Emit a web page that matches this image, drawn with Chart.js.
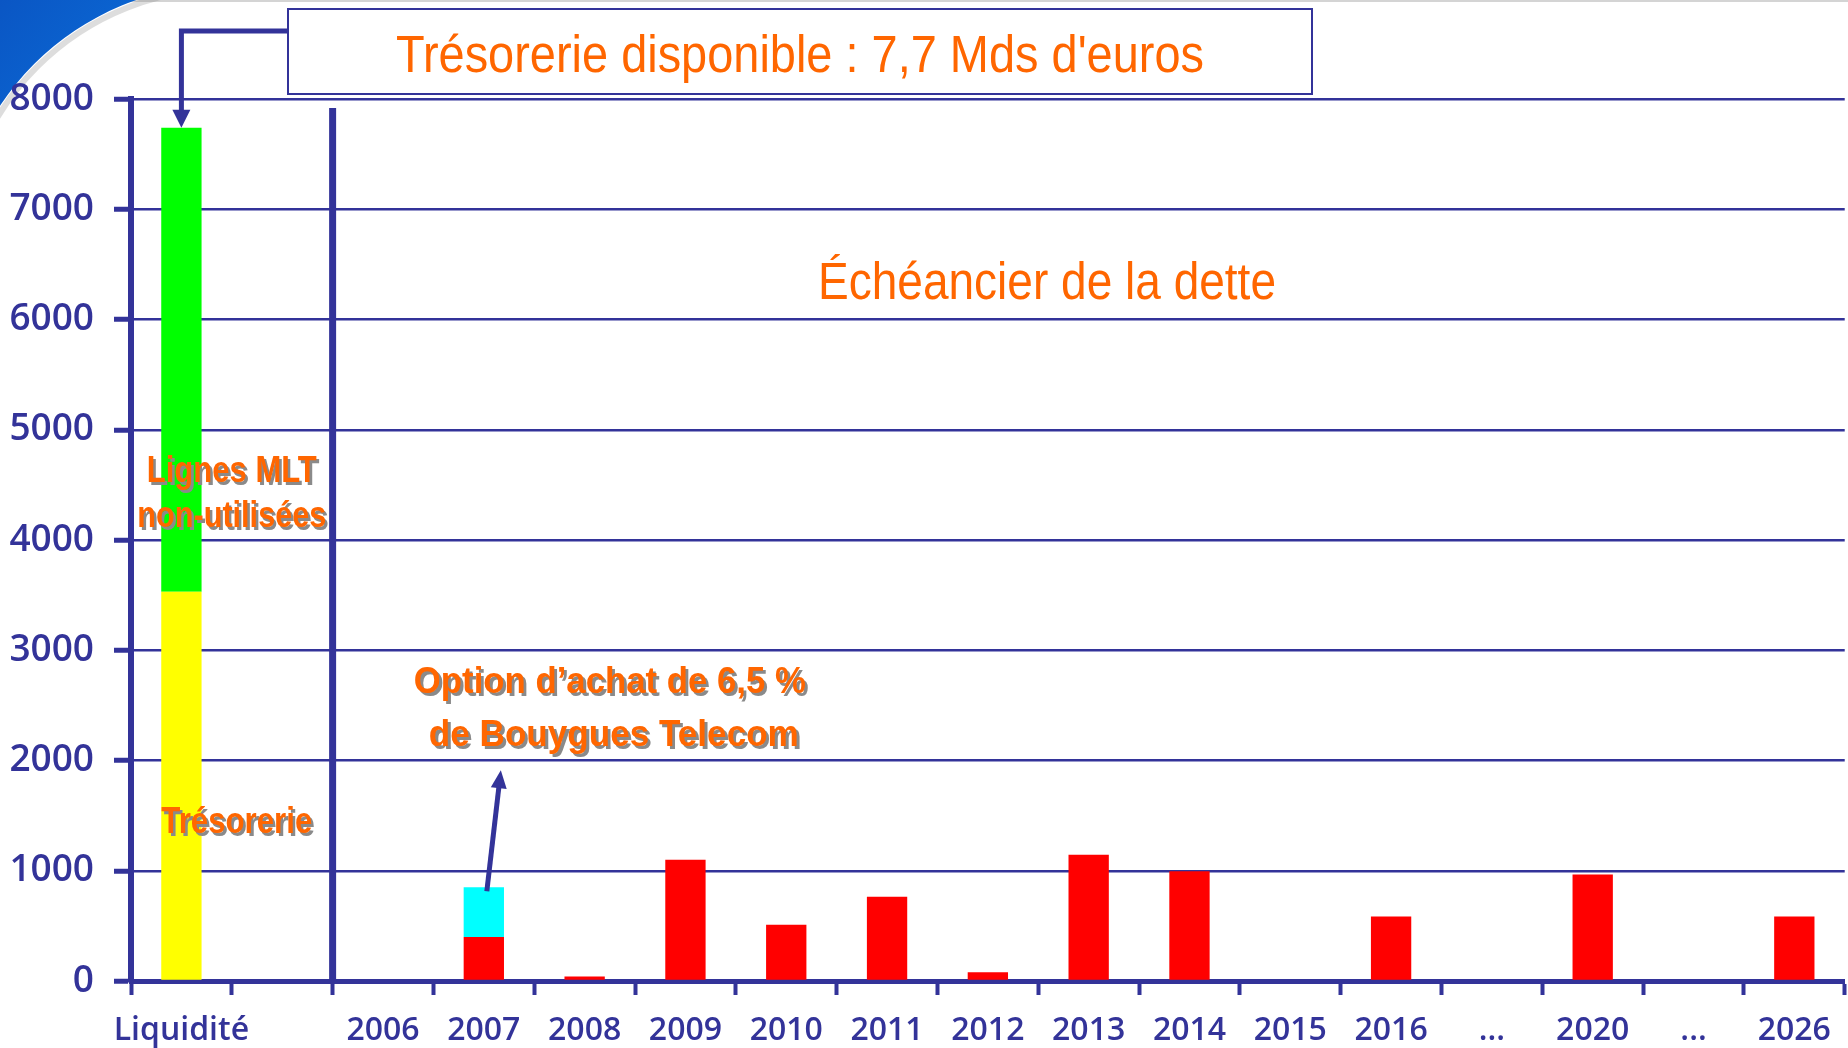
<!DOCTYPE html>
<html lang="fr">
<head>
<meta charset="utf-8">
<title>Échéancier de la dette</title>
<script src="https://cdn.jsdelivr.net/npm/chart.js@4.4.1/dist/chart.umd.min.js"></script>
<style>
  html, body { margin: 0; padding: 0; background: #fff; }
  #chart { display: block; }
</style>
</head>
<body>
<canvas id="chart" width="1848" height="1048"></canvas>
<script>
  // Categories: liquidity column, an empty spacer slot, then maturity years
  const categories = ['Liquidité', '', '2006', '2007', '2008', '2009', '2010', '2011', '2012',
    '2013', '2014', '2015', '2016', '...', '2020', '...', '2026'];

  // Liquidity (M€)
  const tresorerie = [3530, null, null, null, null, null, null, null, null, null, null, null, null, null, null, null, null];
  const lignesMLT  = [4210, null, null, null, null, null, null, null, null, null, null, null, null, null, null, null, null];

  // Debt maturities (M€)
  const echeances = [null, null, 0, 400, 40, 1100, 510, 765, 80, 1145, 995, 0, 585, null, 965, null, 585];
  const optionBT  = [null, null, null, 450, null, null, null, null, null, null, null, null, null, null, null, null, null];

  const yTicks = [0, 1000, 2000, 3000, 4000, 5000, 6000, 7000, 8000];

  const NAVY = '#333399';
  const ORANGE = '#ff6600';
  const NARROW = '"Liberation Sans Narrow", "Liberation Sans", Arial, sans-serif';
  const AXIS_FONT = '"Open Sans", "Noto Sans", sans-serif';

  // draw text squeezed/stretched to a given width (condensed look)
  function fitText(ctx, text, cx, y, width, shadow) {
    const w = ctx.measureText(text).width;
    ctx.save();
    ctx.translate(cx, y);
    ctx.scale(width / w, 1);
    ctx.textAlign = 'center';
    ctx.textBaseline = 'alphabetic';
    if (shadow) {
      ctx.fillStyle = '#8a8a8a';
      ctx.fillText(text, 3, 3);
    }
    ctx.fillStyle = ORANGE;
    ctx.fillText(text, 0, 0);
    ctx.restore();
  }

  function arrowHead(ctx, x0, y0, x1, y1, len, half) {
    const a = Math.atan2(y1 - y0, x1 - x0);
    ctx.beginPath();
    ctx.moveTo(x1, y1);
    ctx.lineTo(x1 - len * Math.cos(a) + half * Math.sin(a), y1 - len * Math.sin(a) - half * Math.cos(a));
    ctx.lineTo(x1 - len * Math.cos(a) - half * Math.sin(a), y1 - len * Math.sin(a) + half * Math.cos(a));
    ctx.closePath();
    ctx.fill();
  }

  const decor = {
    id: 'decor',
    beforeDraw(chart) {
      const ctx = chart.ctx;
      ctx.save();
      ctx.fillStyle = '#fff';
      ctx.fillRect(0, 0, chart.width, chart.height);
      ctx.fillStyle = '#d4d4d4';
      ctx.fillRect(0, 0, chart.width, 2);

      // blue corner swoosh
      ctx.beginPath();
      ctx.rect(0, 0, 200, 140);
      ctx.clip();
      ctx.beginPath();
      ctx.rect(0, 0, 200, 140);
      ctx.arc(225, 255, 270, 0, Math.PI * 2);
      const g = ctx.createLinearGradient(0, 0, 120, 100);
      g.addColorStop(0, '#0a56c4');
      g.addColorStop(1, '#0b6ad6');
      ctx.fillStyle = g;
      ctx.fill('evenodd');
      ctx.beginPath();
      ctx.arc(225, 255, 266, Math.PI, Math.PI * 1.6);
      ctx.strokeStyle = 'rgba(120,120,120,0.25)';
      ctx.lineWidth = 6;
      ctx.stroke();
      ctx.restore();
    },
    afterDraw(chart) {
      const ctx = chart.ctx;
      const x = chart.scales.x, y = chart.scales.y;
      const area = chart.chartArea;
      ctx.save();

      // separator between liquidity and maturities
      const sepX = (x.getPixelForValue(1) + x.getPixelForValue(2)) / 2;
      ctx.strokeStyle = NAVY;
      ctx.lineWidth = 7;
      ctx.beginPath();
      ctx.moveTo(sepX, area.top + 9);
      ctx.lineTo(sepX, area.bottom);
      ctx.stroke();

      // title box
      ctx.fillStyle = '#fff';
      ctx.fillRect(288, 9, 1024, 85);
      ctx.strokeStyle = NAVY;
      ctx.lineWidth = 2;
      ctx.strokeRect(288, 9, 1024, 85);
      ctx.font = '51px ' + NARROW;
      fitText(ctx, 'Trésorerie disponible : 7,7 Mds d\'euros', 800, 72, 808, false);

      // connector from title box to the liquidity bar
      const liq = chart.getDatasetMeta(1).data[0];
      ctx.strokeStyle = NAVY;
      ctx.fillStyle = NAVY;
      ctx.lineWidth = 5;
      ctx.beginPath();
      ctx.moveTo(288, 31);
      ctx.lineTo(liq.x, 31);
      ctx.lineTo(liq.x, liq.y - 15);
      ctx.stroke();
      arrowHead(ctx, liq.x, 31, liq.x, liq.y, 18, 9);

      ctx.font = '51px ' + NARROW;
      fitText(ctx, 'Échéancier de la dette', 1047, 299, 458, false);

      // labels inside the liquidity column
      const midLiq = (x.getPixelForValue(0) + x.getPixelForValue(1)) / 2;
      ctx.font = 'bold 37px ' + NARROW;
      fitText(ctx, 'Lignes MLT', midLiq, y.getPixelForValue(4524), 170, true);
      fitText(ctx, 'non-utilisées', midLiq, y.getPixelForValue(4116), 189, true);
      fitText(ctx, 'Trésorerie', midLiq + 5, y.getPixelForValue(1342), 151, true);

      // call-out on the 2007 option
      const opt = chart.getDatasetMeta(3).data[3];
      fitText(ctx, 'Option d\u2019achat de 6,5 %', opt.x + 126, y.getPixelForValue(2611), 392, true);
      fitText(ctx, 'de Bouygues Telecom', opt.x + 130, y.getPixelForValue(2130), 370, true);

      const sx = opt.x + 3, sy = opt.y + 4;
      const tx = opt.x + 17, ty = opt.y - 117;
      ctx.strokeStyle = NAVY;
      ctx.fillStyle = NAVY;
      ctx.lineWidth = 5;
      ctx.beginPath();
      ctx.moveTo(sx, sy);
      ctx.lineTo(sx + (tx - sx) * 0.88, sy + (ty - sy) * 0.88);
      ctx.stroke();
      arrowHead(ctx, sx, sy, tx, ty, 18, 8);

      ctx.restore();
    }
  };

  new Chart(document.getElementById('chart').getContext('2d'), {
    type: 'bar',
    data: {
      labels: categories,
      datasets: [
        { label: 'Trésorerie', data: tresorerie, backgroundColor: '#ffff00' },
        { label: 'Lignes MLT non-utilisées', data: lignesMLT, backgroundColor: '#00ff00' },
        { label: 'Échéances', data: echeances, backgroundColor: '#ff0000' },
        { label: 'Option Bouygues Telecom', data: optionBT, backgroundColor: '#00ffff' }
      ]
    },
    options: {
      responsive: false,
      animation: false,
      layout: { padding: { top: 99, right: 3, left: 0, bottom: 0 } },
      datasets: { bar: { categoryPercentage: 1, barPercentage: 0.4 } },
      plugins: { legend: { display: false }, tooltip: { enabled: false } },
      scales: {
        x: {
          stacked: true,
          grid: { drawOnChartArea: false, offset: true, color: NAVY, tickLength: 14, tickWidth: 4 },
          border: { color: NAVY, width: 5 },
          ticks: {
            color: NAVY,
            font: { family: AXIS_FONT, size: 32, weight: '600' },
            padding: 17,
            maxRotation: 0,
            autoSkip: false
          },
          afterFit(s) { s.height = 67; }
        },
        y: {
          stacked: true,
          min: yTicks[0],
          max: yTicks[yTicks.length - 1],
          afterBuildTicks(s) { s.ticks = yTicks.map(v => ({ value: v })); },
          grid: { color: NAVY, lineWidth: 2.5, tickLength: 17, tickWidth: 5 },
          border: { color: NAVY, width: 6 },
          ticks: {
            color: NAVY,
            font: { family: AXIS_FONT, size: 37, weight: '600' },
            padding: 20,
            callback: v => String(v)
          },
          afterFit(s) { s.width = 131; }
        }
      }
    },
    plugins: [decor]
  });
</script>
</body>
</html>
